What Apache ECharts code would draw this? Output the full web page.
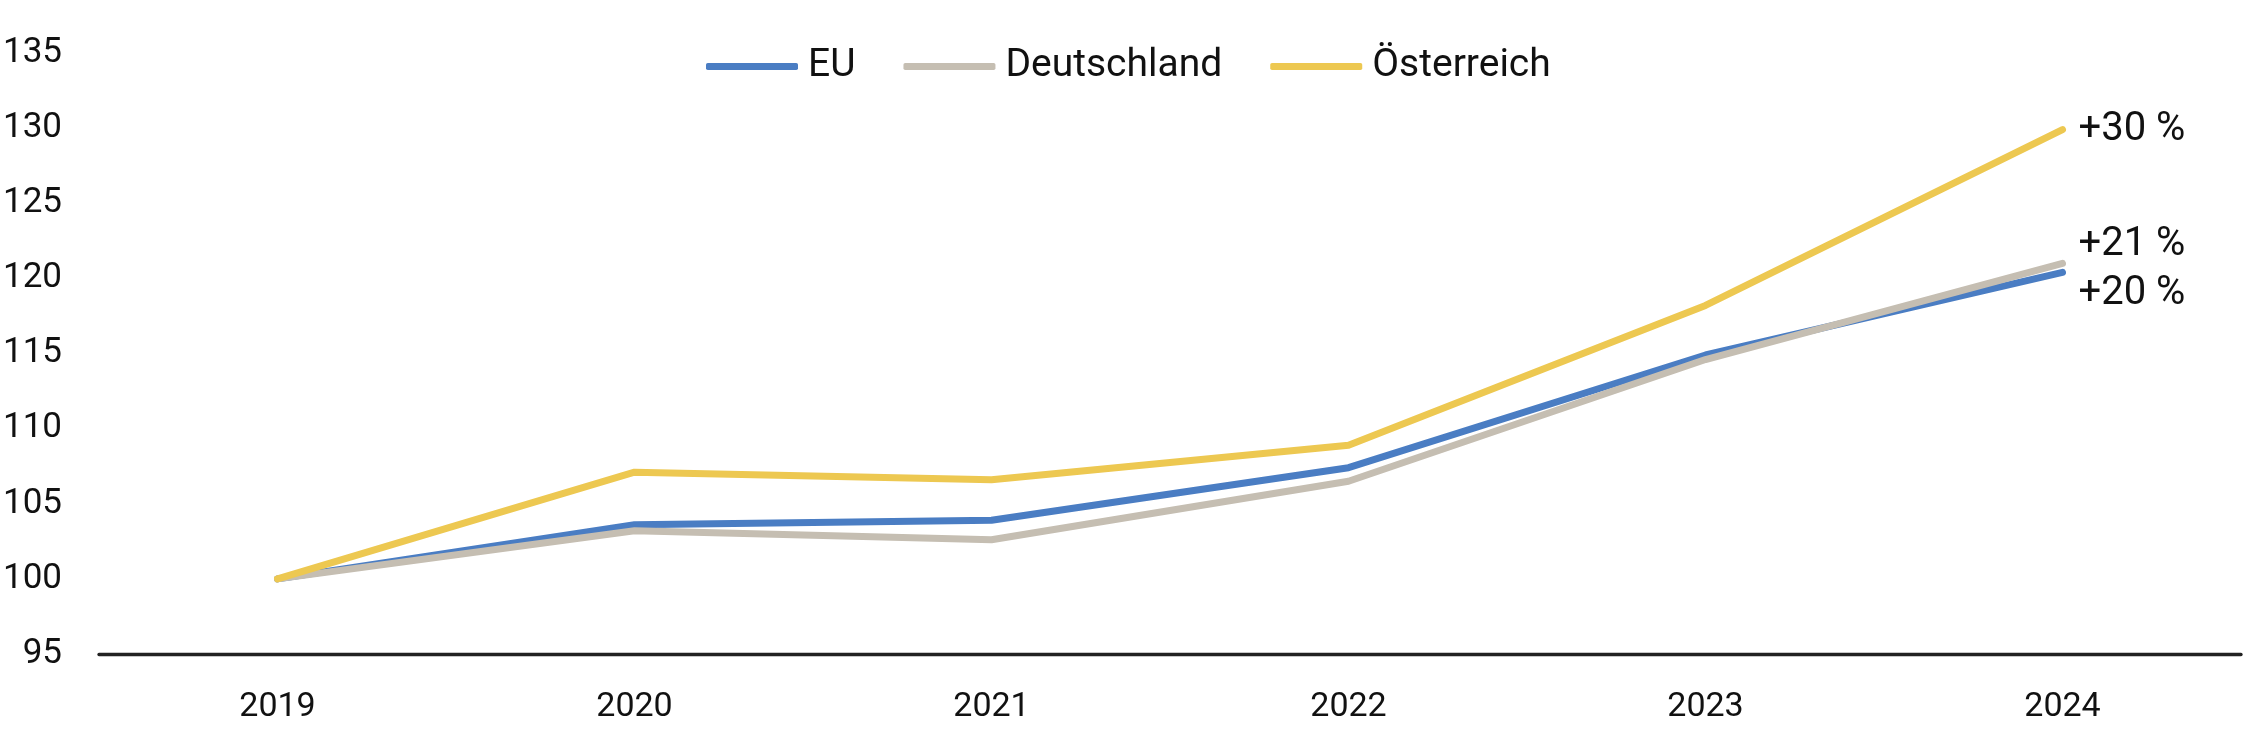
<!DOCTYPE html>
<html>
<head>
<meta charset="utf-8">
<script src="https://cdn.jsdelivr.net/npm/echarts@6/dist/echarts.min.js"></script>
<style>
html,body{margin:0;padding:0;background:#fff;}
#chart{width:2263px;height:735px;}
</style>
</head>
<body>
<div id="chart"></div>
<script>
const years = ['2019', '2020', '2021', '2022', '2023', '2024'];
const seriesNames = ['EU', 'Deutschland', 'Österreich'];
const euValues = [100, 103.6, 103.9, 107.4, 114.9, 120.4];
const deValues = [100, 103.2, 102.6, 106.5, 114.6, 121.0];
const atValues = [100, 107.1, 106.6, 108.9, 118.2, 129.9];
const endLabels = ['+20 %', '+21 %', '+30 %'];
const yMin = 95, yMax = 135, yStep = 5;

const colors = ['#4a7dc3', '#c5beb2', '#edc851'];
const labelOffsets = [[0, 22], [0, -18], [0, 0]];
const allValues = [euValues, deValues, atValues];
const font = 'Roboto, "Noto Sans", sans-serif';

const chart = echarts.init(document.getElementById('chart'));
chart.setOption({
  animation: false,
  grid: { left: 98, right: 22, top: 53, bottom: 81, containLabel: false },
  legend: {
    top: 42,
    left: 701,
    data: seriesNames,
    icon: 'roundRect',
    itemWidth: 92,
    itemHeight: 7,
    itemGap: 48,
    textStyle: { fontFamily: font, fontSize: 39, color: '#111', padding: [0, 0, 0, 5] }
  },
  xAxis: {
    type: 'category',
    data: years,
    boundaryGap: true,
    axisLine: { lineStyle: { color: '#222', width: 3.3 } },
    axisTick: { show: false },
    axisLabel: { fontFamily: font, fontSize: 34, color: '#111', margin: 36 }
  },
  yAxis: {
    type: 'value',
    min: yMin, max: yMax, interval: yStep,
    axisLine: { show: false },
    axisTick: { show: false },
    splitLine: { show: false },
    axisLabel: { fontFamily: font, fontSize: 35, color: '#111', margin: 37 }
  },
  series: seriesNames.map((name, i) => ({
    name: name,
    type: 'line',
    data: allValues[i],
    symbol: 'none',
    color: colors[i],
    lineStyle: { width: 7, color: colors[i], cap: 'round', join: 'round' },
    endLabel: {
      show: true,
      formatter: endLabels[i],
      fontFamily: font,
      fontSize: 40,
      color: '#111',
      distance: 16,
      offset: labelOffsets[i]
    }
  }))
});
</script>
</body>
</html>
